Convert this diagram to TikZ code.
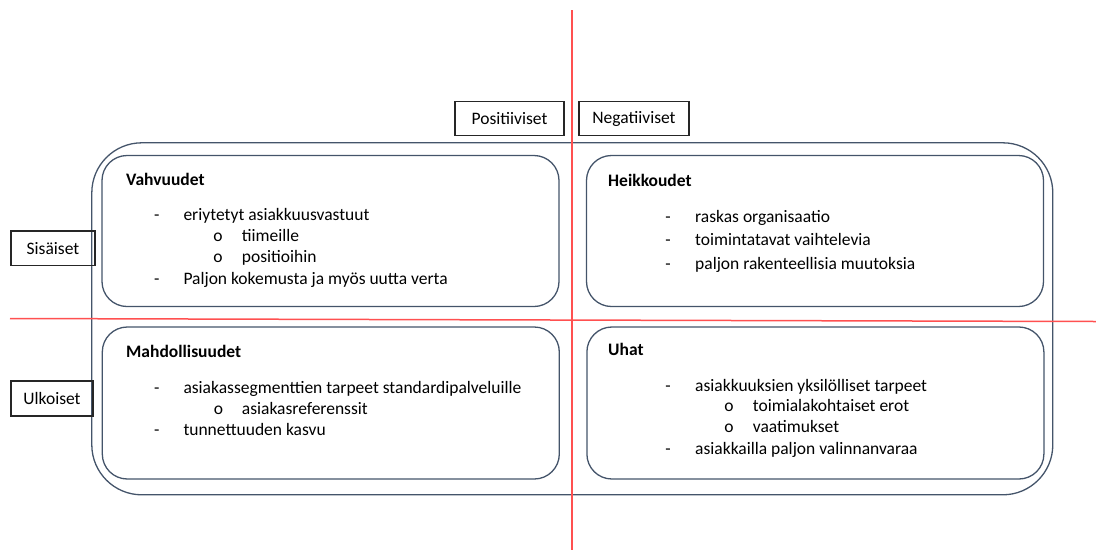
\documentclass[tikz,border=0pt]{standalone}
\usepackage{fontspec}
\setmainfont{Carlito}
\definecolor{frame}{HTML}{44546A}
\definecolor{axis}{HTML}{FF5050}
\begin{document}
\begin{tikzpicture}[x=1pt,y=-1pt,
  every node/.style={font=\fontsize{17.5}{21}\selectfont, inner sep=0pt},
  quad/.style={draw=frame, line width=1.3pt, rounded corners=25pt,
    minimum width=457pt, minimum height=151pt},
  tag/.style={draw=black!85, line width=1.3pt, minimum height=34.5pt},
  head/.style={anchor=base west, font=\fontsize{17.5}{21}\selectfont\bfseries},
  item/.style={anchor=base west},
  bulletmark/.style={anchor=base},
  axisline/.style={draw=axis, line width=1.5pt}]
\useasboundingbox (0,0) rectangle (1096,550);

% quadrant axes
\coordinate (vtop) at (572,10);
\coordinate (vbot) at (572,550);
\coordinate (hleft) at (10,318.5);
\coordinate (hright) at (1096,321.5);

% outer frame and the four quadrants
\node[draw=frame, line width=1.3pt, rounded corners=50pt,
  minimum width=961pt, minimum height=352pt] (frame) at (572.3,318.8) {};
\node[quad] (S) at (330.5,231) {};
\node[quad] (W) at (815,231) {};
\node[quad, minimum height=152pt] (O) at (330.8,403) {};
\node[quad, minimum height=152pt] (T) at (815.4,403) {};

\draw[axisline] (vtop) -- (vbot);
\draw[axisline] (hleft) -- (hright);

% axis tags
\node[tag, minimum width=109pt] (pos) at (509.5,118.5) {Positiiviset};
\node[tag, minimum width=110pt] (neg) at (634,118.5) {Negatiiviset};
\node[tag, minimum width=84pt] (sis) at (53,248.3) {Sisäiset};
\node[tag, minimum width=82pt, minimum height=35pt] (ulk) at (52,398.5) {Ulkoiset};

% Vahvuudet
\node[head] (s0) at (126,185.7) {Vahvuudet};
\node[bulletmark] (s1d) at (156.7,220.7) {-};
\node[item] (s1) at (183.3,220.7) {eriytetyt asiakkuusvastuut};
\node[bulletmark] (s2d) at (218,241.7) {o};
\node[item] (s2) at (241.7,241.7) {tiimeille};
\node[bulletmark] (s3d) at (218,262.7) {o};
\node[item] (s3) at (241.7,262.7) {positioihin};
\node[bulletmark] (s4d) at (156.7,284.3) {-};
\node[item] (s4) at (183.3,284.3) {Paljon kokemusta ja myös uutta verta};

% Heikkoudet
\node[head] (w0) at (608,186) {Heikkoudet};
\node[bulletmark] (w1d) at (668,222.5) {-};
\node[item] (w1) at (695,222.5) {raskas organisaatio};
\node[bulletmark] (w2d) at (668,245.5) {-};
\node[item] (w2) at (695,245.5) {toimintatavat vaihtelevia};
\node[bulletmark] (w3d) at (668,269) {-};
\node[item] (w3) at (695,269) {paljon rakenteellisia muutoksia};

% Mahdollisuudet
\node[head] (o0) at (126,357.3) {Mahdollisuudet};
\node[bulletmark] (o1d) at (156.7,393.3) {-};
\node[item] (o1) at (183.3,393.3) {asiakassegmenttien tarpeet standardipalveluille};
\node[bulletmark] (o2d) at (218.5,414.3) {o};
\node[item] (o2) at (241.7,414.3) {asiakasreferenssit};
\node[bulletmark] (o3d) at (156.7,435.7) {-};
\node[item] (o3) at (183.3,435.7) {tunnettuuden kasvu};

% Uhat
\node[head] (t0) at (608,355.7) {Uhat};
\node[bulletmark] (t1d) at (668,391) {-};
\node[item] (t1) at (695,391) {asiakkuuksien yksilölliset tarpeet};
\node[bulletmark] (t2d) at (729,411.7) {o};
\node[item] (t2) at (752.7,411.7) {toimialakohtaiset erot};
\node[bulletmark] (t3d) at (729,432.7) {o};
\node[item] (t3) at (752.7,432.7) {vaatimukset};
\node[bulletmark] (t4d) at (668,454) {-};
\node[item] (t4) at (695,454) {asiakkailla paljon valinnanvaraa};
\end{tikzpicture}
\end{document}
